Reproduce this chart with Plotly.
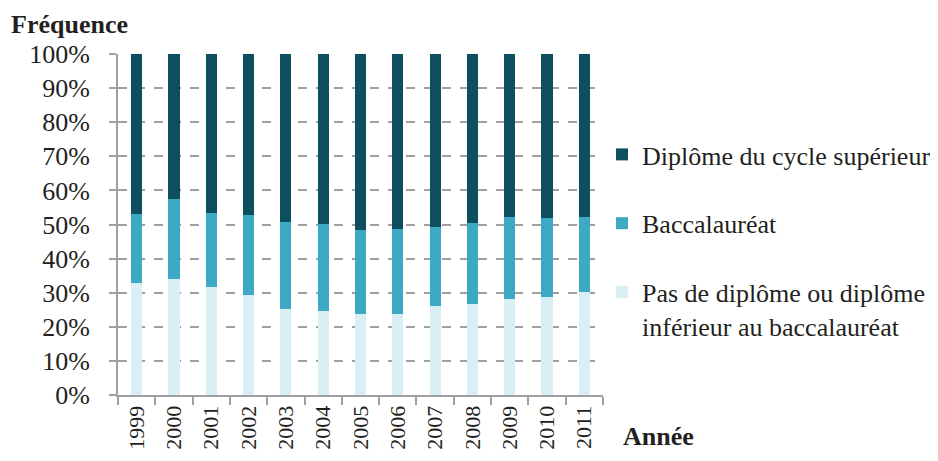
import plotly.graph_objects as go

years = ["1999", "2000", "2001", "2002", "2003", "2004", "2005", "2006", "2007", "2008", "2009", "2010", "2011"]
pas_diplome = [32.8, 34.0, 31.6, 29.4, 25.3, 24.6, 23.8, 23.9, 26.1, 26.6, 28.3, 28.8, 30.1]
baccalaureat = [20.3, 23.4, 21.8, 23.4, 25.3, 25.5, 24.6, 24.7, 23.2, 23.8, 23.8, 23.0, 22.0]
superieur = [46.9, 42.6, 46.6, 47.2, 49.4, 49.9, 51.6, 51.4, 50.7, 49.6, 47.9, 48.2, 47.9]
y_ticks = [0, 10, 20, 30, 40, 50, 60, 70, 80, 90, 100]
y_labels = [f"{v}%" for v in y_ticks]

font_fam = "Times New Roman, Liberation Serif, serif"
fs = 26
fig = go.Figure()
fig.add_trace(go.Bar(x=years, y=pas_diplome, name="Pas de diplôme ou diplôme<br>inférieur au baccalauréat",
                     marker=dict(color="#daeef5", line=dict(width=0)), legendgroup="c", legendrank=3))
fig.add_trace(go.Bar(x=years, y=baccalaureat, name="Baccalauréat",
                     marker=dict(color="#3ea9c5", line=dict(width=0)), legendgroup="b", legendrank=2))
fig.add_trace(go.Bar(x=years, y=superieur, name="Diplôme du cycle supérieur",
                     marker=dict(color="#0d4f5f", line=dict(width=0)), legendgroup="a", legendrank=1))

W, H = 922, 445
L, R, T, B = 110, 327, 46, 58
pw = W - L - R
ph = H - T - B

fig.update_layout(
    width=W, height=H,
    barmode="stack", bargap=0.7,
    plot_bgcolor="white", paper_bgcolor="white",
    margin=dict(l=L, r=R, t=T, b=B, autoexpand=False),
    font=dict(family=font_fam, size=fs, color="#231f20"),
    legend=dict(x=(594 - L) / pw, y=(H - B - 123) / ph, xanchor="left", yanchor="top",
                traceorder="grouped", tracegroupgap=32,
                valign="top", itemwidth=30,
                font=dict(family=font_fam, size=fs, color="#231f20")),
    xaxis=dict(type="category", tickangle=-90, showline=True, linecolor="#a0a0a0", linewidth=2,
               ticks="outside", tickson="boundaries", ticklen=8, tickcolor="#a0a0a0", tickwidth=2,
               showgrid=False, automargin=False, tickfont=dict(family=font_fam, size=22)),
    yaxis=dict(range=[0, 100], tickvals=y_ticks, ticktext=y_labels, showline=True, linecolor="#a0a0a0",
               linewidth=2, ticks="outside", ticklen=7, tickcolor="#a0a0a0", tickwidth=2,
               ticklabelstandoff=14,
               showgrid=True, gridcolor="#a0a0a0", griddash="dash", gridwidth=2,
               zeroline=False, automargin=False, tickfont=dict(family=font_fam, size=fs)),
    annotations=[
        dict(text="<b>Fréquence</b>", x=(1 - L) / pw, y=(H - B - 16) / ph, xref="paper", yref="paper",
             xanchor="left", yanchor="middle", showarrow=False),
        dict(text="<b>Année</b>", x=(614 - L) / pw, y=(H - B - 444) / ph, xref="paper", yref="paper",
             xanchor="left", yanchor="bottom", showarrow=False, borderpad=0),
    ],
)

fig.write_html("out.html")
